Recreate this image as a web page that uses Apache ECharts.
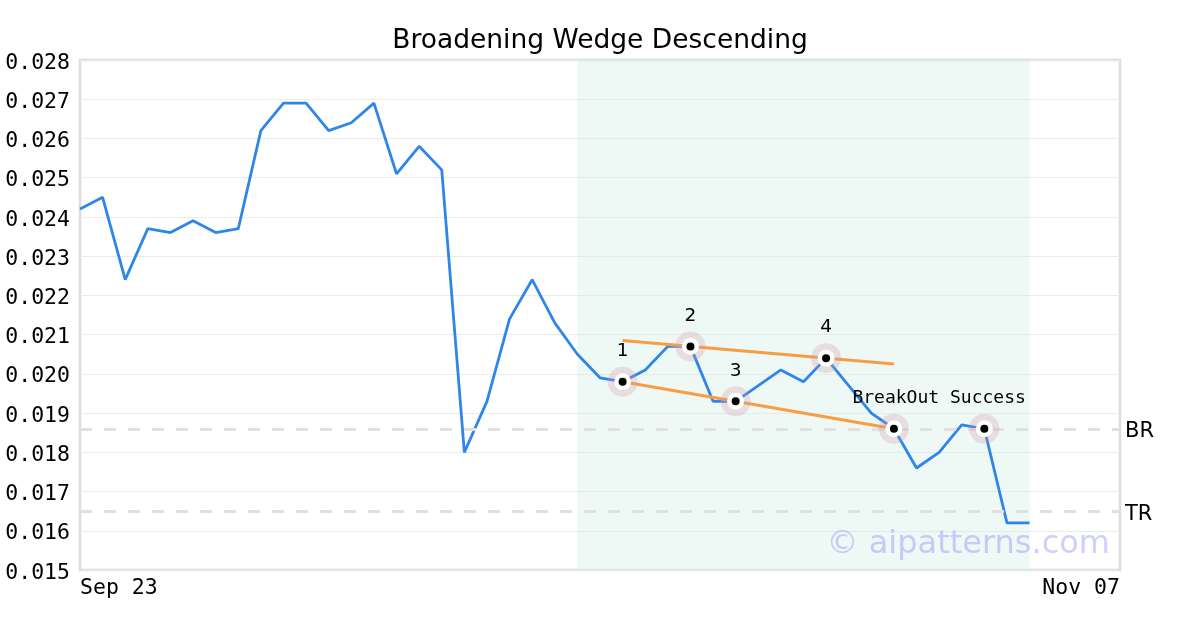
<!DOCTYPE html>
<html>
<head>
<meta charset="utf-8">
<script src="https://cdn.jsdelivr.net/npm/echarts@6/dist/echarts.min.js"></script>
<style>html,body{margin:0;padding:0;background:#fff}#c{width:1200px;height:630px}</style>
</head>
<body>
<div id="c"></div>
<script>
const titleText = 'Broadening Wedge Descending';
const prices = [0.0242,0.0245,0.0224,0.0237,0.0236,0.0239,0.0236,0.0237,0.0262,0.0269,
  0.0269,0.0262,0.0264,0.0269,0.0251,0.0258,0.0252,0.0180,0.0193,0.0214,
  0.0224,0.0213,0.0205,0.0199,0.0198,0.0201,0.0207,0.0207,0.0193,0.0193,
  0.0197,0.0201,0.0198,0.0204,0.0197,0.0190,0.0186,0.0176,0.0180,0.0187,
  0.0186,0.0162,0.0162];
const xTickIdx = [0, 46];
const xTickLabels = ['Sep 23', 'Nov 07'];
const yTicks = [0.015,0.016,0.017,0.018,0.019,0.020,0.021,0.022,0.023,0.024,0.025,0.026,0.027,0.028];
const patternRange = [22, 42];
const pivotIdx = [24, 27, 29, 33];
const pivotLabels = ['1', '2', '3', '4'];
const breakoutIdx = 36;
const successIdx = 40;
const upperLine = [[24, 0.02085], [36, 0.02025]];
const lowerLine = [[24, 0.0198], [36, 0.0186]];
const levelValues = [0.0186, 0.0165];
const levelNames = ['BR', 'TR'];
const noteText = 'BreakOut Success';
const watermark = '© aipatterns.com';

const lineData = prices.map((v, i) => [i, v]);
const keyPts = pivotIdx.map((i, k) => ({value: [i, prices[i]], label: pivotLabels[k]}))
  .concat([{value: [breakoutIdx, prices[breakoutIdx]], label: ''}, {value: [successIdx, prices[successIdx]], label: ''}]);
const mono = 'DejaVu Sans Mono';
const sans = 'DejaVu Sans';
const plainText = {color: '#000000', opacity: 1, textBorderWidth: 0, textShadowBlur: 0, fontWeight: 'normal'};

const chart = echarts.init(document.getElementById('c'), null, {renderer: 'canvas'});
chart.setOption({
  animation: false,
  backgroundColor: '#ffffff',
  title: {text: titleText, left: 'center', top: 23, textStyle: {fontFamily: sans, fontSize: 26.5, fontWeight: 'normal', color: '#000'}},
  grid: {left: 80, right: 80, top: 60, bottom: 60, show: true, borderColor: '#dcdcdc', borderWidth: 2.5, backgroundColor: 'transparent'},
  xAxis: {
    type: 'value', min: xTickIdx[0], max: xTickIdx[1], interval: xTickIdx[1] - xTickIdx[0],
    axisLine: {show: false}, axisTick: {show: false}, splitLine: {show: false},
    axisLabel: {
      fontFamily: mono, fontSize: 21.5, color: '#000', margin: 7,
      alignMinLabel: 'left', alignMaxLabel: 'right',
      formatter: v => { const k = xTickIdx.indexOf(Math.round(v)); return k >= 0 ? xTickLabels[k] : ''; }
    }
  },
  yAxis: {
    type: 'value', min: yTicks[0], max: yTicks[yTicks.length - 1], interval: 0.001,
    axisLine: {show: false}, axisTick: {show: false},
    splitLine: {show: true, lineStyle: {color: '#ebebeb', width: 1}},
    axisLabel: {
      margin: 10, formatter: v => '{t|' + v.toFixed(3) + '}',
      rich: {t: {fontFamily: mono, fontSize: 21.5, color: '#000', padding: [6, 0, 0, 0]}}
    }
  },
  graphic: [{
    type: 'text', right: 90, top: 529, z: 100,
    style: {text: watermark, fontFamily: sans, fontSize: 32, fill: 'rgba(140,140,255,0.42)'}
  }],
  series: [
    {
      type: 'line', data: lineData, showSymbol: false, z: 3,
      lineStyle: {color: '#2d86e8', width: 2.8},
      markArea: {silent: true, itemStyle: {color: 'rgba(215,238,228,0.42)'}, data: [[{xAxis: patternRange[0]}, {xAxis: patternRange[1]}]]},
      markLine: {
        silent: true, symbol: 'none', precision: 5,
        lineStyle: {color: '#e0e0e0', type: [12, 12], width: 3, opacity: 1},
        label: {position: 'end', distance: 5, offset: [0, 3], fontFamily: sans, fontSize: 21, color: '#000', formatter: p => p.name},
        emphasis: {disabled: true},
        data: levelValues.map((v, k) => ({yAxis: v, name: levelNames[k]}))
      }
    },
    {type: 'line', data: upperLine, showSymbol: false, z: 4, lineStyle: {color: '#f89c45', width: 3}},
    {type: 'line', data: lowerLine, showSymbol: false, z: 4, lineStyle: {color: '#f89c45', width: 3}},
    {
      type: 'scatter', z: 5, symbolSize: 30,
      itemStyle: {color: 'rgba(210,150,172,0.35)'},
      data: keyPts.map(p => p.value)
    },
    {type: 'scatter', z: 6, symbolSize: 17, itemStyle: {color: '#ffffff', opacity: 1}, data: keyPts.map(p => p.value)},
    {
      type: 'scatter', z: 7, symbolSize: 8, itemStyle: {color: '#000000', opacity: 1},
      data: keyPts.map(p => ({value: p.value, label: Object.assign({show: p.label !== '', formatter: p.label}, plainText)})),
      label: Object.assign({position: 'top', distance: 17, fontFamily: sans, fontSize: 18.5}, plainText)
    },
    {
      type: 'scatter', z: 8, symbolSize: 1, itemStyle: {color: 'rgba(0,0,0,0)'},
      data: [[(breakoutIdx + successIdx) / 2, prices[breakoutIdx]]],
      label: Object.assign({show: true, position: 'top', distance: 21, fontFamily: mono, fontSize: 18, formatter: noteText}, plainText)
    }
  ]
});
</script>
</body>
</html>
